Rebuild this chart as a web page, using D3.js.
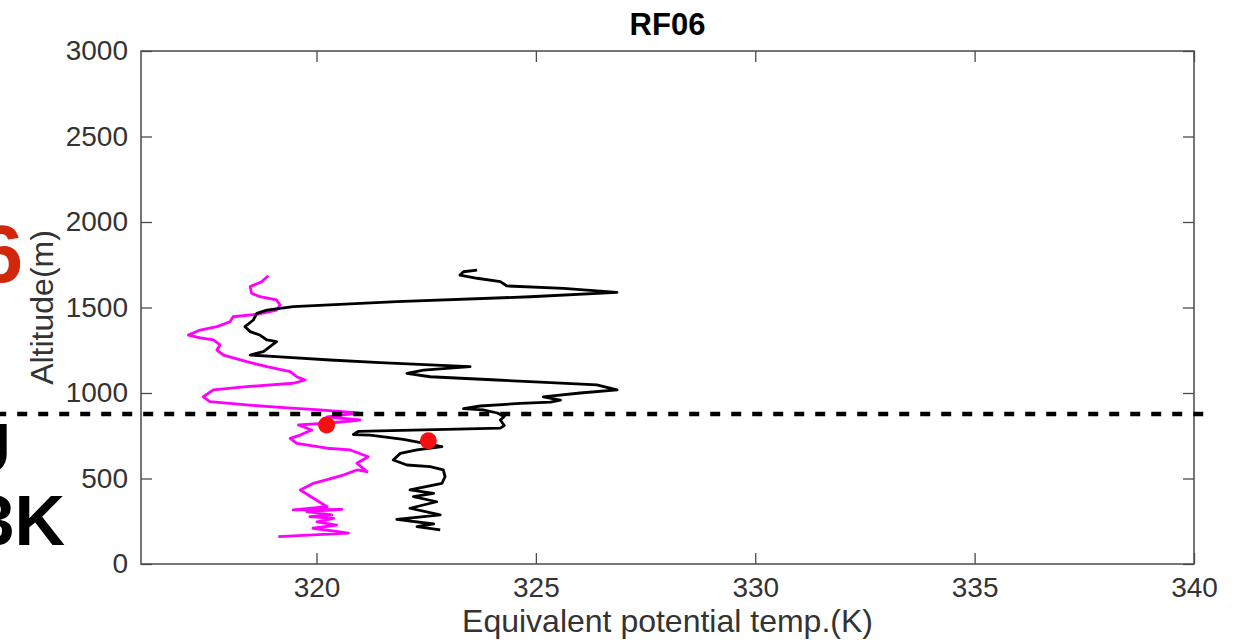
<!DOCTYPE html>
<html>
<head>
<meta charset="utf-8">
<script src="https://cdn.jsdelivr.net/npm/d3@7"></script>
<style>
  body { margin: 0; background: #fff; }
  svg { display: block; font-family: "Liberation Sans", Arial, Helvetica, sans-serif; }
</style>
</head>
<body>
<svg id="chart"></svg>
<script>
// profile (theta-e in K, altitude in m)
const magentaTemp = [319.13, 320.73, 319.92, 320.46, 320.01, 320.39, 319.85, 320.35, 319.78, 320.58, 319.47, 320.24,
  319.63, 319.93, 320.61, 320.92, 321.15, 320.92, 321.18, 320.77, 320.24, 319.55, 319.40, 319.63, 319.89, 319.59,
  320.24, 320.99, 320.24, 320.95, 320.08, 319.25, 318.41, 317.57, 317.42, 317.65, 318.41, 319.47, 319.74, 319.55,
  319.40, 318.87, 318.41, 317.88, 317.73, 317.80, 317.65, 317.35, 317.08, 317.35, 317.73, 318.03, 318.10, 318.64,
  319.09, 319.17, 319.09, 318.71, 318.52, 318.49, 318.75, 318.90];
const magentaAlt = [160, 181, 209, 228, 247, 267, 277, 287, 306, 320, 316, 335,
  433, 472, 520, 550, 540, 589, 627, 667, 677, 706, 735, 754, 784, 813,
  823, 842, 861, 883, 901, 914, 930, 949, 978, 1018, 1037, 1057, 1076, 1095,
  1125, 1154, 1183, 1222, 1251, 1281, 1310, 1323, 1339, 1368, 1388, 1417, 1446, 1460,
  1485, 1515, 1544, 1563, 1583, 1622, 1651, 1686];

const blackTemp = [322.82, 322.29, 322.67, 321.83, 322.44, 322.82, 322.13, 322.74, 322.21, 322.67, 322.13, 322.86,
  322.93, 322.89, 322.59, 322.06, 321.75, 321.91, 322.29, 322.86, 321.98, 321.22, 320.84, 320.95, 321.45, 324.19,
  324.28, 324.19, 324.28, 324.12, 323.80, 323.35, 323.73, 324.64, 325.33, 325.56, 325.17, 326.01, 326.85, 326.39,
  325.10, 324.11, 322.59, 322.06, 322.44, 323.50, 322.59, 321.45, 320.31, 319.17, 318.49, 318.79, 319.09, 318.87,
  318.71, 318.49, 318.37, 318.56, 318.64, 318.87, 319.47, 321.83, 324.87, 326.85, 325.63, 324.34, 324.19, 323.66,
  323.27, 323.35, 323.66];
const blackAlt = [199, 218, 234, 261, 277, 287, 326, 364, 394, 413, 433, 472,
  511, 550, 569, 579, 608, 647, 667, 686, 729, 754, 757, 775, 778, 795,
  810, 842, 863, 883, 901, 909, 924, 939, 947, 959, 977, 1000, 1018, 1047,
  1064, 1076, 1095, 1115, 1134, 1154, 1164, 1178, 1193, 1211, 1222, 1242, 1300, 1310,
  1339, 1359, 1388, 1427, 1466, 1485, 1505, 1534, 1563, 1589, 1612, 1626, 1651, 1671,
  1690, 1709, 1719];

const markerTemp = [320.23, 322.55];
const markerAlt = [813, 721];

// dashed reference level, runs past the left edge of the axes
const refLevelAlt = 877;
const refLevelTemp = [312.7, 340.33];

const xTicks = [320, 325, 330, 335, 340];
const yTicks = [0, 500, 1000, 1500, 2000, 2500, 3000];

const width = 1239;
const height = 643;
const plot = { left: 141, right: 1194, top: 51, bottom: 564 };

const svg = d3.select("#chart").attr("width", width).attr("height", height);
svg.append("rect").attr("width", width).attr("height", height).attr("fill", "#fff");

const x = d3.scaleLinear().domain([316, 340]).range([plot.left, plot.right]);
const y = d3.scaleLinear().domain([0, 3000]).range([plot.bottom, plot.top]);

const axisColor = "#4a4a4a";
const textColor = "#333";

// axes (matlab style: box, inward ticks on all sides)
const tickLen = 11;
svg.append("g")
  .attr("transform", `translate(0, ${plot.bottom})`)
  .call(d3.axisBottom(x).tickValues(xTicks).tickSize(-tickLen).tickPadding(13).tickFormat(d3.format("d")))
  .call(g => g.select(".domain").remove())
  .call(g => g.selectAll("line").attr("stroke", axisColor).attr("stroke-width", 1.3))
  .call(g => g.selectAll("text").attr("fill", textColor).attr("font-size", 28).attr("font-family", "Liberation Sans, Arial, sans-serif"));

svg.append("g")
  .attr("transform", `translate(0, ${plot.top})`)
  .call(d3.axisTop(x).tickValues(xTicks).tickSize(-tickLen).tickFormat(""))
  .call(g => g.select(".domain").remove())
  .call(g => g.selectAll("line").attr("stroke", axisColor).attr("stroke-width", 1.3));

svg.append("g")
  .attr("transform", `translate(${plot.left}, 0)`)
  .call(d3.axisLeft(y).tickValues(yTicks).tickSize(-tickLen).tickPadding(13).tickFormat(d3.format("d")))
  .call(g => g.select(".domain").remove())
  .call(g => g.selectAll("line").attr("stroke", axisColor).attr("stroke-width", 1.3))
  .call(g => g.selectAll("text").attr("fill", textColor).attr("font-size", 28).attr("font-family", "Liberation Sans, Arial, sans-serif"));

svg.append("g")
  .attr("transform", `translate(${plot.right}, 0)`)
  .call(d3.axisRight(y).tickValues(yTicks).tickSize(-tickLen).tickFormat(""))
  .call(g => g.select(".domain").remove())
  .call(g => g.selectAll("line").attr("stroke", axisColor).attr("stroke-width", 1.3));

svg.append("rect")
  .attr("x", plot.left).attr("y", plot.top)
  .attr("width", plot.right - plot.left).attr("height", plot.bottom - plot.top)
  .attr("fill", "none").attr("stroke", axisColor).attr("stroke-width", 1.5);

// profiles
const line = d3.line().x(d => x(d[0])).y(d => y(d[1]));

svg.append("path")
  .datum(magentaTemp.map((t, i) => [t, magentaAlt[i]]))
  .attr("d", line)
  .attr("fill", "none").attr("stroke", "#ff00ff").attr("stroke-width", 2.8)
  .attr("stroke-linejoin", "round");

svg.append("path")
  .datum(blackTemp.map((t, i) => [t, blackAlt[i]]))
  .attr("d", line)
  .attr("fill", "none").attr("stroke", "#000").attr("stroke-width", 2.8)
  .attr("stroke-linejoin", "round");

svg.append("line")
  .attr("x1", x(refLevelTemp[0])).attr("x2", x(refLevelTemp[1]))
  .attr("y1", y(refLevelAlt)).attr("y2", y(refLevelAlt))
  .attr("stroke", "#000").attr("stroke-width", 4.5).attr("stroke-dasharray", "10,11");

svg.selectAll("circle.marker")
  .data(markerTemp.map((t, i) => [t, markerAlt[i]]))
  .join("circle")
  .attr("class", "marker")
  .attr("cx", d => x(d[0])).attr("cy", d => y(d[1]))
  .attr("r", 8.5).attr("fill", "#f41010");

// labels
svg.append("text")
  .attr("x", (plot.left + plot.right) / 2).attr("y", 35)
  .attr("text-anchor", "middle").attr("font-size", 31).attr("font-weight", "bold").attr("fill", "#000")
  .text("RF06");

svg.append("text")
  .attr("x", (plot.left + plot.right) / 2).attr("y", 632)
  .attr("text-anchor", "middle").attr("font-size", 32).attr("fill", textColor)
  .text("Equivalent potential temp.(K)");

svg.append("text")
  .attr("transform", `translate(53, ${(plot.top + plot.bottom) / 2}) rotate(-90)`)
  .attr("text-anchor", "middle").attr("font-size", 32).attr("fill", textColor)
  .text("Altitude(m)");

// slide text clipped at the left edge
svg.append("text")
  .attr("x", 23).attr("y", 282)
  .attr("text-anchor", "end").attr("font-size", 82).attr("font-weight", "bold").attr("fill", "#d1280c")
  .text("6");

svg.append("text")
  .attr("x", 11).attr("y", 473)
  .attr("text-anchor", "end").attr("font-size", 71).attr("font-weight", "bold").attr("fill", "#000")
  .text("U");

svg.append("text")
  .attr("x", 65).attr("y", 545)
  .attr("text-anchor", "end").attr("font-size", 70).attr("font-weight", "bold").attr("fill", "#000")
  .text("3K");
</script>
</body>
</html>
